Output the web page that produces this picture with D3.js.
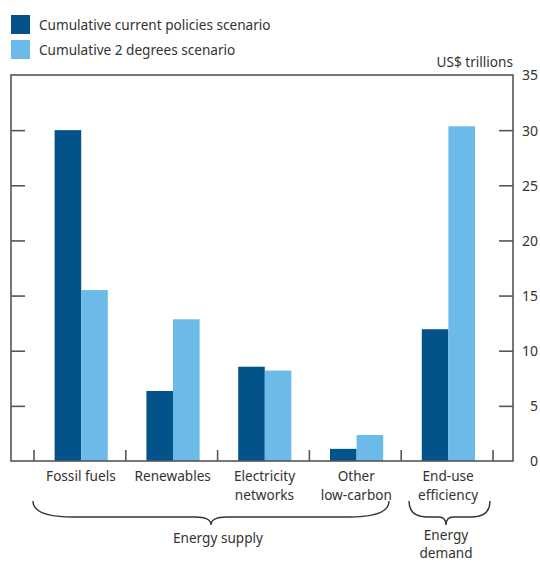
<!DOCTYPE html>
<html><head><meta charset="utf-8">
<script src="https://cdn.jsdelivr.net/npm/d3@7"></script>
<style>body{margin:0;background:#fff}text{font-family:"Noto Sans",sans-serif;fill:#333}</style>
</head><body><svg id="c" width="540" height="563"></svg>
<script>
const categories = [["Fossil fuels"],["Renewables"],["Electricity","networks"],["Other","low-carbon"],["End-use","efficiency"]];
const currentPolicies = [30.0, 6.35, 8.55, 1.1, 11.95];
const twoDegrees = [15.5, 12.85, 8.2, 2.35, 30.35];
const seriesNames = ["Cumulative current policies scenario","Cumulative 2 degrees scenario"];
const yTicks = [0,5,10,15,20,25,30,35];
const groups = [{label:["Energy supply"], from:0, to:3},{label:["Energy","demand"], from:4, to:4}];

const colors = ["#03538a","#6bbae8"];
const FS = 13.6;
const svg = d3.select("#c");
const L=11, R=513, T=75, B=461;
const y = d3.scaleLinear().domain([0,35]).range([B,T]);
const x = d3.scaleBand().domain(d3.range(categories.length)).range([34,493]).padding(0);
const barW = 26.6;

// legend
seriesNames.forEach((n,i)=>{
  svg.append("rect").attr("x",11).attr("y",15+i*25).attr("width",19).attr("height",19).attr("fill",colors[i]);
  svg.append("text").attr("x",39).attr("y",30+i*25).attr("font-size",FS).text(n);
});
svg.append("text").attr("x",R).attr("y",67).attr("text-anchor","end").attr("font-size",FS).text("US$ trillions");

// bars
const data = categories.map((c,i)=>[currentPolicies[i],twoDegrees[i]]);
data.forEach((vals,i)=>{
  const cx = x(i)+x.bandwidth()/2+1.3;
  vals.forEach((v,j)=>{
    svg.append("rect").attr("x",cx-barW+j*barW).attr("y",y(v)).attr("width",barW).attr("height",B-y(v)).attr("fill",colors[j]);
  });
});

// frame
svg.append("rect").attr("x",L).attr("y",T).attr("width",R-L).attr("height",B-T).attr("fill","none").attr("stroke","#555").attr("stroke-width",1.6);

// left ticks inside
const lt = svg.append("g").attr("transform",`translate(${L},0)`).call(d3.axisRight(y).tickValues(yTicks.filter(t=>t>0&&t<35)).tickSize(14).tickFormat(""));
lt.select(".domain").remove();
lt.selectAll("line").attr("stroke","#555").attr("stroke-width",1.6);
// right axis
const rt = svg.append("g").attr("transform",`translate(${R},0)`).call(d3.axisLeft(y).tickValues(yTicks.filter(t=>t>0&&t<35)).tickSize(14).tickFormat(""));
rt.select(".domain").remove();
rt.selectAll("line").attr("stroke","#555").attr("stroke-width",1.6);
const rl = svg.append("g").attr("transform",`translate(${R},0)`).call(d3.axisRight(y).tickValues(yTicks).tickSize(0).tickPadding(25).tickFormat(d3.format("d")));
rl.select(".domain").remove();
rl.selectAll("text").attr("text-anchor","end").attr("font-size",FS+0.4).attr("font-family","Noto Sans").attr("fill","#333").attr("dy","0.35em");

// bottom ticks
d3.range(categories.length+1).forEach(i=>{
  const xx = i<categories.length? x(i) : x(i-1)+x.bandwidth();
  svg.append("line").attr("x1",xx).attr("x2",xx).attr("y1",B).attr("y2",B-11).attr("stroke","#555").attr("stroke-width",1.6);
});

// category labels
categories.forEach((c,i)=>{
  const t = svg.append("text").attr("x",x(i)+x.bandwidth()/2+1).attr("y",481).attr("text-anchor","middle").attr("font-size",FS);
  c.forEach((s,k)=>t.append("tspan").attr("x",x(i)+x.bandwidth()/2+1).attr("dy",k?18.5:0).text(s));
});

// braces
function brace(x0,x1,cx,yTop,yMid,yTip){
  const r = Math.min(40,(cx-x0)/2);
  return `M${x0},${yTop} Q${x0},${yMid} ${x0+r},${yMid} L${cx-r*0.4},${yMid} Q${cx},${yMid} ${cx},${yTip} Q${cx},${yMid} ${cx+r*0.4},${yMid} L${x1-r},${yMid} Q${x1},${yMid} ${x1},${yTop}`;
}
const gb = [{x0:33,x1:389,cx:211},{x0:409,x1:490,cx:446}];
groups.forEach((g,i)=>{
  const b = gb[i];
  svg.append("path").attr("d",brace(b.x0,b.x1,b.cx,501,517,525)).attr("fill","none").attr("stroke","#333").attr("stroke-width",1.4);
  const t = svg.append("text").attr("x",b.cx).attr("y",i?540:543).attr("text-anchor","middle").attr("font-size",FS);
  g.label.forEach((s,k)=>t.append("tspan").attr("x",b.cx+(i?0:7)).attr("dy",k?17.5:0).text(s));
});
</script></body></html>
